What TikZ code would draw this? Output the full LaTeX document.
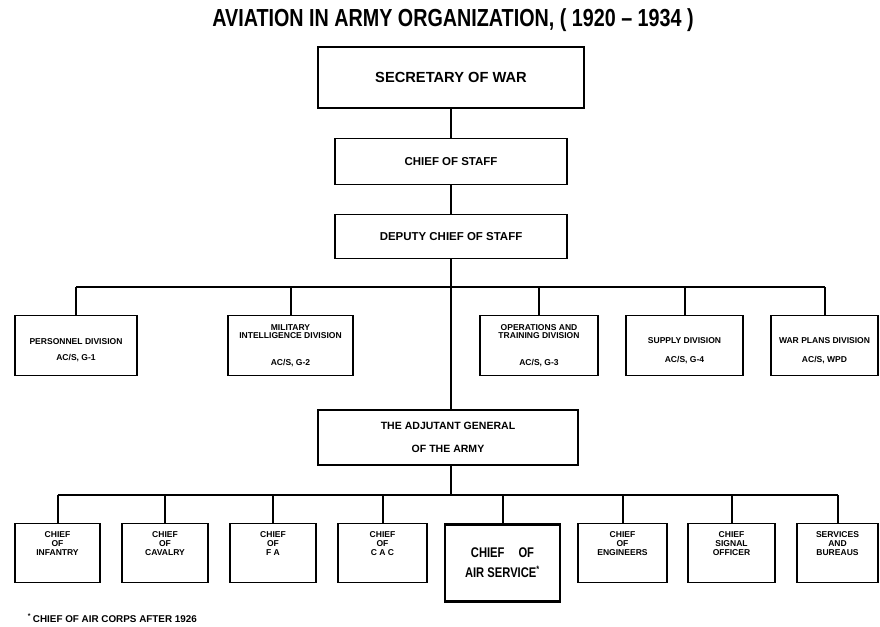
\documentclass[tikz,border=0pt]{standalone}
\usepackage{fontspec}
\setmainfont{Liberation Sans}
\newfontfamily\narrowfont{Liberation Sans}[FakeStretch=0.8]
\usetikzlibrary{positioning}

\begin{document}
\begin{tikzpicture}[x=0.75pt, y=-0.75pt, node distance=21.75pt,
  every node/.style={draw, line width=0.9pt, align=center, inner sep=1pt},
  bigbox/.style={minimum width=199.5pt, minimum height=45.75pt, font=\bfseries\fontsize{11}{12}\selectfont},
  staffbox/.style={minimum width=174pt, font=\bfseries\fontsize{8.6}{9}\selectfont},
  divbox/.style={minimum height=45pt, anchor=north, font=\bfseries\fontsize{6.4}{6.2}\selectfont},
  armbox/.style={minimum height=44.25pt, anchor=north, font=\bfseries\fontsize{6.4}{6.5}\selectfont},
  airbox/.style={line width=2pt, minimum width=86.25pt, minimum height=57.75pt, anchor=north, font=\narrowfont\bfseries\fontsize{10.5}{15}\selectfont},
  link/.style={line width=1.5pt}]

\useasboundingbox (0,0) rectangle (880,627);

% Nodes
\node[draw=none, font=\narrowfont\bfseries\fontsize{18.5}{20}\selectfont] (title) at (453,20) {AVIATION IN ARMY ORGANIZATION, ( 1920 – 1934 )};
\node[bigbox] (sec) at (451,77.5) {SECRETARY OF WAR};
\node[staffbox, minimum height=34.5pt, below=of sec] (cos) {CHIEF OF STAFF};
\node[staffbox, minimum height=33pt, below=of cos] (dcs) {DEPUTY CHIEF OF STAFF};

\node[divbox, minimum width=91.5pt] (pers) at (76,315) {\mbox{}\\[5.5pt]PERSONNEL DIVISION\\[6pt]AC/S, G-1};
\node[divbox, minimum width=93.75pt] (mid) at (290.5,315) {MILITARY\\INTELLIGENCE DIVISION\\[14pt]AC/S, G-2};
\node[divbox, minimum width=88.5pt] (otd) at (539,315) {OPERATIONS AND\\TRAINING DIVISION\\[14pt]AC/S, G-3};
\node[divbox, minimum width=87.75pt] (sup) at (684.5,315) {\mbox{}\\[5.5pt]SUPPLY DIVISION\\[8pt]AC/S, G-4};
\node[divbox, minimum width=80.25pt] (wpd) at (824.5,315) {\mbox{}\\[5.5pt]WAR PLANS DIVISION\\[8pt]AC/S, WPD};

\node[minimum width=195pt, minimum height=41.25pt, font=\bfseries\fontsize{7.9}{9}\selectfont] (adj) at (448,437.5) {THE ADJUTANT GENERAL\\[8pt]OF THE ARMY};

\node[armbox, minimum width=63.75pt] (inf) at (57.5,523) {CHIEF\\OF\\INFANTRY\\[8pt]\mbox{}};
\node[armbox, minimum width=64.5pt] (cav) at (165,523) {CHIEF\\OF\\CAVALRY\\[8pt]\mbox{}};
\node[armbox, minimum width=64.5pt] (fa) at (273,523) {CHIEF\\OF\\F A\\[8pt]\mbox{}};
\node[armbox, minimum width=66.75pt] (cac) at (382.5,523) {CHIEF\\OF\\C A C\\[8pt]\mbox{}};
\node[airbox] (air) at (502.5,523) {CHIEF\quad OF\\AIR SERVICE\textsuperscript{\scriptsize *}};
\node[armbox, minimum width=66.75pt] (eng) at (622.5,523) {CHIEF\\OF\\ENGINEERS\\[8pt]\mbox{}};
\node[armbox, minimum width=65.25pt] (sig) at (731.5,523) {CHIEF\\SIGNAL\\OFFICER\\[8pt]\mbox{}};
\node[armbox, minimum width=60.75pt] (srv) at (837.5,523) {SERVICES\\AND\\BUREAUS\\[8pt]\mbox{}};

\coordinate (topbus) at (0,287);
\coordinate (lowbus) at (0,495);

% Edges
\draw[link] (sec) -- (cos);
\draw[link] (cos) -- (dcs);
\draw[link] (dcs.south) -- (dcs.south |- adj.north);
\draw[link] (dcs.south |- adj.south) -- (dcs.south |- lowbus);
\draw[link] (pers.north |- topbus) -- (wpd.north |- topbus);
\foreach \n in {pers,mid,otd,sup,wpd}
  \draw[link] (\n.north) -- (\n.north |- topbus);
\draw[link] (inf.north |- lowbus) -- (srv.north |- lowbus);
\foreach \n in {inf,cav,fa,cac,air,eng,sig,srv}
  \draw[link] (\n.north) -- (\n.north |- lowbus);

% Labels
\node[draw=none, anchor=west, font=\bfseries\fontsize{7.4}{8}\selectfont] (note) at (26,618) {\textsuperscript{*}\,CHIEF OF AIR CORPS AFTER 1926};

\end{tikzpicture}
\end{document}
